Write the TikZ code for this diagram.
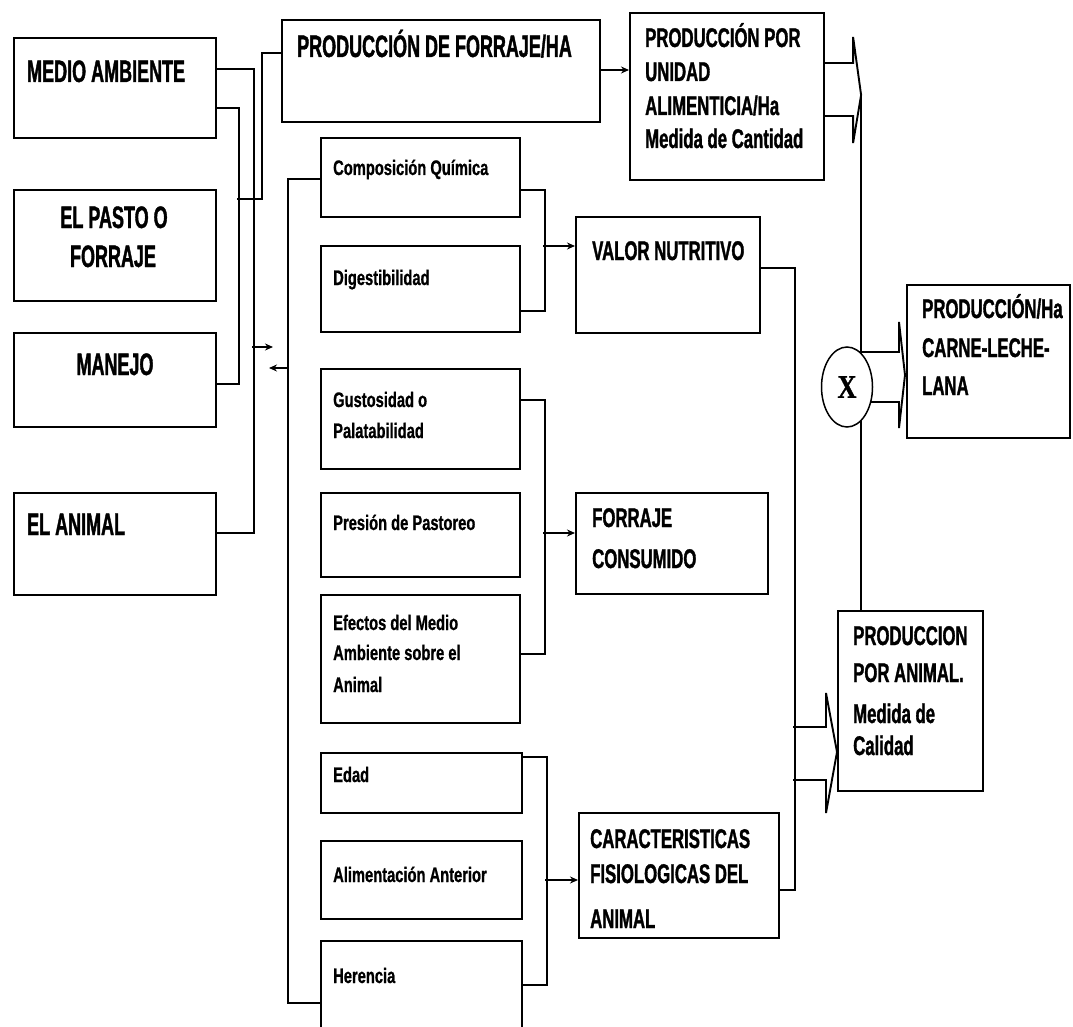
\documentclass[tikz,border=0pt]{standalone}
\usepackage{fontspec}
\setmainfont{Liberation Sans}
\newfontfamily\bigf[FakeStretch=0.58,FakeBold=1.2]{Liberation Sans Bold}
\newfontfamily\midf[FakeStretch=0.62,FakeBold=1.2]{Liberation Sans Bold}
\newfontfamily\smf[FakeStretch=0.70,FakeBold=0.8]{Liberation Sans Bold}
\newfontfamily\xf[FakeStretch=0.80,FakeBold=1]{Liberation Serif Bold}
\usetikzlibrary{arrows.meta,shapes.geometric}
\pgfdeclarelayer{back}
\pgfdeclarelayer{bg}
\pgfsetlayers{back,bg,main}
\tikzset{
  bx/.style={draw, line width=2.1pt, inner sep=0pt, anchor=north west},
  lg/.style={font=\bigf\fontsize{31}{31}\selectfont, anchor=base west, inner sep=0pt},
  lgc/.style={lg, anchor=base},
  md/.style={font=\midf\fontsize{27}{27}\selectfont, anchor=base west, inner sep=0pt},
  sm/.style={font=\smf\fontsize{21}{21}\selectfont, anchor=base west, inner sep=0pt},
  ln/.style={line width=1.9pt},
  ar/.style={ln, -{Stealth[length=8pt,width=7pt]}},
  blk/.style={line width=1.9pt, line join=miter},
}
\newcommand\mkbox[5]{\node[bx, minimum width={#4-#2}, minimum height={#5-#3}] (#1) at (#2,#3) {};}
\begin{document}
\begin{tikzpicture}[x=1pt,y=-1pt]
\clip (0,0) rectangle (1073,1027);
\begin{pgfonlayer}{back}
\fill[white] (0,0) rectangle (1073,1027);
\end{pgfonlayer}
% boxes
\mkbox{ma}{13}{37}{215}{137}
\mkbox{pf}{13}{189}{215}{300}
\mkbox{mj}{13}{332}{215}{426}
\mkbox{an}{13}{492}{215}{594}
\mkbox{pfh}{281}{19}{599}{121}
\mkbox{pu}{629}{12}{823}{179}
\mkbox{cq}{320}{137}{519}{216}
\mkbox{dg}{320}{245}{519}{331}
\mkbox{vn}{575}{216}{759}{332}
\mkbox{gp}{320}{368}{519}{468}
\mkbox{pp}{320}{492}{519}{576}
\mkbox{ef}{320}{594}{519}{722}
\mkbox{fc}{575}{492}{767}{593}
\mkbox{ed}{320}{752}{521}{812}
\mkbox{al}{320}{840}{521}{918}
\mkbox{he}{320}{940}{521}{1045}
\mkbox{ca}{578}{812}{778}{937}
\mkbox{pa}{837}{610}{982}{790}
\mkbox{ph}{906}{284}{1069}{437}
\node[draw, ellipse, minimum width=51pt, minimum height=80pt, inner sep=0pt, fill=white, line width=1.5pt, font=\xf\fontsize{33}{33}\selectfont] (X) at (847,387) {X};

% texts
\node[lg] (t1) at (27,82) {MEDIO AMBIENTE};
\node[lgc] (t2) at (114,228) {EL PASTO O};
\node[lgc] (t3) at (113,267) {FORRAJE};
\node[lgc] (t4) at (115,375) {MANEJO};
\node[lg] (t5) at (27,535) {EL ANIMAL};
\node[lg] (t6) at (297,57) {PRODUCCIÓN DE FORRAJE/HA};
\node[md] (t7) at (645,47) {PRODUCCIÓN POR};
\node[md] (t8) at (645,81) {UNIDAD};
\node[md] (t9) at (645,115) {ALIMENTICIA/Ha};
\node[md] (t10) at (645,148) {Medida de Cantidad};
\node[md] (t11) at (592,260) {VALOR NUTRITIVO};
\node[md] (t12) at (592,527) {FORRAJE};
\node[md] (t13) at (592,568) {CONSUMIDO};
\node[md] (t14) at (590,848) {CARACTERISTICAS};
\node[md] (t15) at (590,883) {FISIOLOGICAS DEL};
\node[md] (t16) at (590,928) {ANIMAL};
\node[md] (t17) at (922,318) {PRODUCCIÓN/Ha};
\node[md] (t18) at (922,357) {CARNE-LECHE-};
\node[md] (t19) at (922,395) {LANA};
\node[md] (t20) at (853,645) {PRODUCCION};
\node[md] (t21) at (853,682) {POR ANIMAL.};
\node[md] (t22) at (853,723) {Medida de};
\node[md] (t23) at (853,755) {Calidad};
\node[sm] (s1) at (333,175) {Composición Química};
\node[sm] (s2) at (333,285) {Digestibilidad};
\node[sm] (s3) at (333,407) {Gustosidad o};
\node[sm] (s4) at (333,438) {Palatabilidad};
\node[sm] (s5) at (333,530) {Presión de Pastoreo};
\node[sm] (s6) at (333,630) {Efectos del Medio};
\node[sm] (s7) at (333,660) {Ambiente sobre el};
\node[sm] (s8) at (333,692) {Animal};
\node[sm] (s9) at (333,782) {Edad};
\node[sm] (s10) at (333,882) {Alimentación Anterior};
\node[sm] (s11) at (333,983) {Herencia};

\coordinate (c1) at (237,199);
\coordinate (a1) at (252,347);
\coordinate (a2) at (288,368);

\begin{pgfonlayer}{bg}
% left column connectors
\draw[ln] ([yshift=-71pt]ma.north east) -- ++(22,0) |- ([yshift=-52pt]mj.north east);
\draw[ln] ([yshift=-32pt]ma.north east) -- ++(37,0) |- ([yshift=-41pt]an.north east);
\draw[ln] (c1) -- ++(25,0) |- ([yshift=-34pt]pfh.north west);
\draw[ar] (a1) -- ++(21,0);
\draw[ar] (a2) -- ++(-19,0);
% middle vertical
\draw[ln] ([yshift=-42pt]cq.north west) -- ++(-32,0) |- ([yshift=-63pt]he.north west);
% brackets
\draw[ln] ([yshift=-53pt]cq.north east) -- ++(24,0) |- ([yshift=-66pt]dg.north east);
\draw[ar] ([xshift=-32pt,yshift=-30pt]vn.north west) -- ([yshift=-30pt]vn.north west);
\draw[ln] ([yshift=-32pt]gp.north east) -- ++(24,0) |- ([yshift=-60pt]ef.north east);
\draw[ar] ([xshift=-32pt,yshift=-41pt]fc.north west) -- ([yshift=-41pt]fc.north west);
\draw[ln] ([yshift=-5pt]ed.north east) -- ++(24,0) |- ([yshift=-45pt]he.north east);
\draw[ar] ([xshift=-33pt,yshift=-68pt]ca.north west) -- ([yshift=-68pt]ca.north west);
% top
\draw[ar] ([yshift=-51pt]pfh.north east) -- ([yshift=-58pt]pu.north west);
\draw[blk] ([yshift=-51pt]pu.north east) -- ++(28,0) -- ++(0,-26) -- ++(8,58) coordinate (tip1) -- ++(-8,48) -- ++(0,-27) -- ([yshift=-104pt]pu.north east);
\draw[ln] (tip1) -- (tip1 |- pa.north);
% X to production/ha
\draw[blk] ([yshift=35pt]X.center) -- ++(52,0) -- ++(0,-30) -- ++(6,53) -- ++(-6,53) -- ++(0,-26) -- ++(-52,0);
% valor nutritivo / caracteristicas line
\draw[ln] ([yshift=-52pt]vn.north east) -- ++(34,0) |- ([yshift=-78pt]ca.north east);
\coordinate (tip2) at ([yshift=-142pt]pa.north west);
\draw[blk] ([shift={(-44,-25)}]tip2) -- ++(33,0) -- ++(0,-34) -- (tip2) -- ++(-11,61) -- ++(0,-33) -- ++(-33,0);
\end{pgfonlayer}
\end{tikzpicture}
\end{document}
